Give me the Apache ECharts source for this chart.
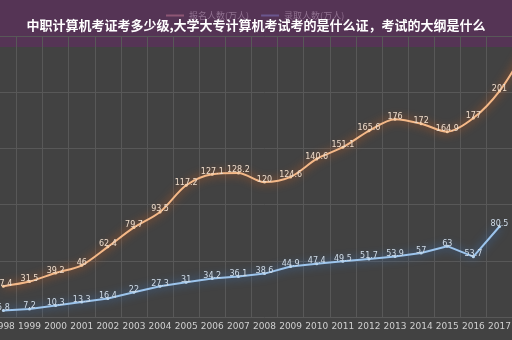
<!DOCTYPE html>
<html><head><meta charset="utf-8">
<script src="https://cdn.jsdelivr.net/npm/echarts@6/dist/echarts.min.js"></script>
<style>html,body{margin:0;padding:0;background:#424242;overflow:hidden;width:512px;height:340px;position:relative;}#c{position:absolute;left:-11px;top:0;width:551px;height:340px;}</style>
</head><body><div id="c"></div>
<script>
var titleText = '中职计算机考证考多少级,大学大专计算机考试考的是什么证，考试的大纲是什么';
var years = ['1998','1999','2000','2001','2002','2003','2004','2005','2006','2007','2008','2009','2010','2011','2012','2013','2014','2015','2016','2017','2018'];
var seriesNames = ['报名人数(万人)', '录取人数(万人)'];
var applicants = [27.4, 31.5, 39.2, 46, 62.4, 79.7, 93.5, 117.2, 127.1, 128.2, 120, 124.6, 140.6, 151.1, 165.6, 176, 172, 164.9, 177, 201, 238];
var applicantLabels = ['27.4','31.5','39.2','46','62.4','79.7','93.5','117.2','127.1','128.2','120','124.6','140.6','151.1','165.6','176','172','164.9','177','201',''];
var passed = [5.8, 7.2, 10.3, 13.3, 16.4, 22, 27.3, 31, 34.2, 36.1, 38.6, 44.9, 47.4, 49.5, 51.7, 53.9, 57, 63, 53.7, 80.5, null];

var chart = echarts.init(document.getElementById('c'), null, {renderer: 'canvas'});
chart.setOption({
  backgroundColor: '#424242',
  animation: false,
  graphic: [
    {type: 'rect', shape: {x: 0, y: 0, width: 551, height: 47}, style: {fill: '#553455'}, z: 0},
    {type: 'text', x: 267, y: 19, style: {text: titleText, fill: '#ffffff', align: 'center', font: 'bold 13px "Noto Sans CJK SC"'}, z: 10}
  ],
  legend: {
    top: 6, left: 172,
    itemWidth: 18, itemHeight: 2, itemGap: 12,
    icon: 'rect',
    textStyle: {color: 'rgba(190,160,190,0.55)', fontSize: 9, fontFamily: 'Noto Sans CJK SC'},
    data: [
      {name: seriesNames[0], itemStyle: {color: 'rgba(200,120,150,0.5)'}},
      {name: seriesNames[1], itemStyle: {color: 'rgba(130,120,200,0.5)'}}
    ]
  },
  grid: {left: 0, right: 0, top: 36, bottom: 23, containLabel: false},
  xAxis: {
    type: 'category', data: years, boundaryGap: true,
    axisLine: {show: false}, axisTick: {show: false},
    axisLabel: {color: '#d0d0d0', fontSize: 9, margin: 5, fontFamily: 'DejaVu Sans', interval: 0},
    splitLine: {show: true, lineStyle: {color: '#585858', width: 1}}
  },
  yAxis: {
    type: 'value', min: 0, max: 250, interval: 50,
    axisLabel: {show: false}, axisLine: {show: false}, axisTick: {show: false},
    splitLine: {lineStyle: {color: '#585858', width: 1}}
  },
  series: [
    {
      name: seriesNames[0], type: 'line', data: applicants, smooth: 0.3,
      symbol: 'circle', symbolSize: 3, showSymbol: true,
      itemStyle: {color: '#f6c9a0'},
      lineStyle: {color: '#f4b888', width: 2, shadowColor: '#e0621a', shadowBlur: 10},
      label: {show: true, position: 'top', distance: -3, color: '#eedccb', fontSize: 8, fontFamily: 'DejaVu Sans',
        formatter: function (p) { return applicantLabels[p.dataIndex]; }},
      z: 3
    },
    {
      name: seriesNames[1], type: 'line', data: passed, smooth: false,
      symbol: 'circle', symbolSize: 3, showSymbol: true,
      itemStyle: {color: '#b8d4ee'},
      lineStyle: {color: '#9cc4ec', width: 2, shadowColor: '#3a78c8', shadowBlur: 10},
      label: {show: true, position: 'top', distance: -3, color: '#d0dce8', fontSize: 8, fontFamily: 'DejaVu Sans'},
      z: 3
    }
  ]
});
</script></body></html>
